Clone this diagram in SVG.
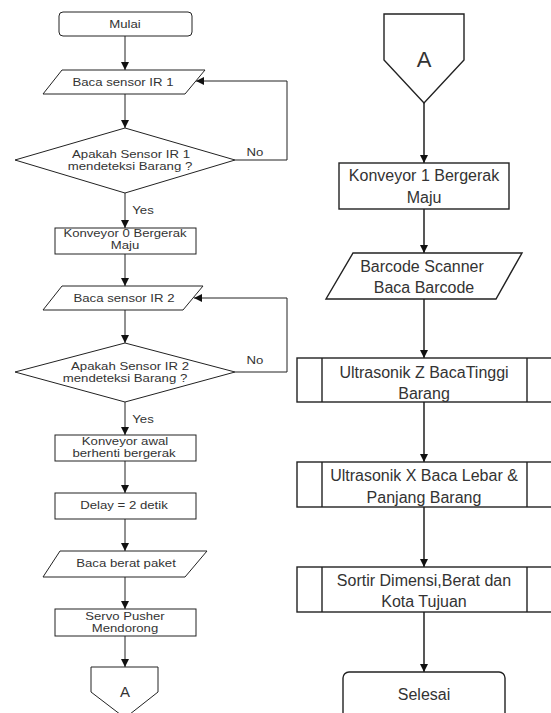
<svg xmlns="http://www.w3.org/2000/svg" width="551" height="713" viewBox="0 0 551 713">
<style>
.s{fill:#fff;stroke:#222;stroke-width:1}
.r{fill:#fff;stroke:#222;stroke-width:1.4}
.c{fill:none;stroke:#222;stroke-width:1;marker-end:url(#ah)}
.cr{fill:none;stroke:#111;stroke-width:1.4;marker-end:url(#ah)}
text{font-family:"Liberation Sans",Arial,sans-serif;fill:#333;text-anchor:middle}
.t{font-size:11px}
.n{font-size:10.5px}
.b{font-size:16px}
</style>
<defs>
<marker id="ah" viewBox="0 0 10 10" refX="10" refY="5" markerWidth="8" markerHeight="8" markerUnits="userSpaceOnUse" orient="auto">
<path d="M0,0 L10,5 L0,10 Z" fill="#111"/>
</marker>
</defs>
<rect width="551" height="713" fill="#fff"/>
<g id="connectors">
<line class="c" x1="125" y1="36" x2="125" y2="70"/>
<line class="c" x1="125" y1="94" x2="125" y2="128"/>
<polyline class="c" points="235,160 287,160 287,81 196,81"/>
<line class="c" x1="125" y1="193" x2="125" y2="228"/>
<line class="c" x1="125" y1="254" x2="125" y2="286"/>
<line class="c" x1="125" y1="310" x2="125" y2="343"/>
<polyline class="c" points="235,372 287,372 287,298 194,298"/>
<line class="c" x1="125" y1="402" x2="125" y2="435"/>
<line class="c" x1="125" y1="461" x2="125" y2="493"/>
<line class="c" x1="125" y1="519" x2="125" y2="551"/>
<line class="c" x1="125" y1="577" x2="125" y2="609"/>
<line class="c" x1="125" y1="636" x2="125" y2="667"/>
<line class="cr" x1="424" y1="103" x2="424" y2="163"/>
<line class="cr" x1="424" y1="209" x2="424" y2="253"/>
<line class="cr" x1="424" y1="299" x2="424" y2="358"/>
<line class="cr" x1="424" y1="402" x2="424" y2="462"/>
<line class="cr" x1="424" y1="507" x2="424" y2="567"/>
<line class="cr" x1="424" y1="612" x2="424" y2="672"/>
<text class="t" transform="translate(255,156) scale(1.2,1)">No</text>
<text class="t" transform="translate(143,214) scale(1.2,1)">Yes</text>
<text class="t" transform="translate(255,364) scale(1.2,1)">No</text>
<text class="t" transform="translate(143,423) scale(1.2,1)">Yes</text>
</g>
<g id="mulai">
<rect class="s" x="59" y="12" width="133" height="24" rx="4"/>
<text class="t" transform="translate(125,28) scale(1.2,1)">Mulai</text>
</g>
<g id="baca-ir1">
<polygon class="s" points="62,70 205,70 185,94 43,94"/>
<text class="t" transform="translate(123,86) scale(1.2,1)">Baca sensor IR 1</text>
</g>
<g id="cek-ir1">
<polygon class="s" points="125,128 235,160 125,193 15,160"/>
<text class="t" transform="translate(131,158) scale(1.2,1)">Apakah Sensor IR 1</text>
<text class="t" transform="translate(130,170) scale(1.2,1)">mendeteksi Barang ?</text>
</g>
<g id="konveyor0">
<rect class="s" x="55" y="228" width="141" height="26"/>
<text class="n" transform="translate(125,237) scale(1.25,1)">Konveyor 0 Bergerak</text>
<text class="n" transform="translate(125,249) scale(1.25,1)">Maju</text>
</g>
<g id="baca-ir2">
<polygon class="s" points="62,286 203,286 183,310 43,310"/>
<text class="t" transform="translate(124,302) scale(1.2,1)">Baca sensor IR 2</text>
</g>
<g id="cek-ir2">
<polygon class="s" points="125,343 235,372 125,402 15,372"/>
<text class="t" transform="translate(130,370) scale(1.2,1)">Apakah Sensor IR 2</text>
<text class="t" transform="translate(125,382) scale(1.2,1)">mendeteksi Barang ?</text>
</g>
<g id="konveyor-awal">
<rect class="s" x="55" y="435" width="141" height="26"/>
<text class="t" transform="translate(125,445) scale(1.2,1)">Konveyor awal</text>
<text class="t" transform="translate(124,457) scale(1.2,1)">berhenti bergerak</text>
</g>
<g id="delay">
<rect class="s" x="55" y="493" width="141" height="26"/>
<text class="t" transform="translate(124,509) scale(1.2,1)">Delay = 2 detik</text>
</g>
<g id="baca-berat">
<polygon class="s" points="60,551 207,551 185,577 43,577"/>
<text class="t" transform="translate(126,567) scale(1.2,1)">Baca berat paket</text>
</g>
<g id="servo">
<rect class="s" x="55" y="609" width="141" height="27"/>
<text class="n" transform="translate(125,619.5) scale(1.25,1)">Servo Pusher</text>
<text class="n" transform="translate(125,631.5) scale(1.25,1)">Mendorong</text>
</g>
<g id="a-out">
<polygon class="s" points="91,667 158,667 158,692 125,718 91,692"/>
<text x="125" y="697" style="font-size:15px">A</text>
</g>
<g id="a-in">
<polygon class="r" points="384,14 464,14 464,60 424,103 384,60"/>
<text x="424" y="67" style="font-size:22px">A</text>
</g>
<g id="konveyor1">
<rect class="r" x="339" y="163" width="170" height="46"/>
<text class="b" x="424" y="181">Konveyor 1 Bergerak</text>
<text class="b" x="424" y="203">Maju</text>
</g>
<g id="barcode">
<polygon class="r" points="353,253 522,253 496,299 326,299"/>
<text class="b" x="422" y="272">Barcode Scanner</text>
<text class="b" x="424" y="293">Baca Barcode</text>
</g>
<g id="ultrasonik-z">
<rect class="r" x="297" y="358" width="260" height="44"/>
<line class="r" x1="322" y1="358" x2="322" y2="402"/>
<line class="r" x1="527" y1="358" x2="527" y2="402"/>
<text class="b" x="424" y="378">Ultrasonik Z BacaTinggi</text>
<text class="b" x="424" y="399">Barang</text>
</g>
<g id="ultrasonik-x">
<rect class="r" x="297" y="462" width="260" height="45"/>
<line class="r" x1="322" y1="462" x2="322" y2="507"/>
<line class="r" x1="527" y1="462" x2="527" y2="507"/>
<text class="b" x="424" y="481">Ultrasonik X Baca Lebar &amp;</text>
<text class="b" x="424" y="503">Panjang Barang</text>
</g>
<g id="sortir">
<rect class="r" x="297" y="567" width="260" height="45"/>
<line class="r" x1="322" y1="567" x2="322" y2="612"/>
<line class="r" x1="527" y1="567" x2="527" y2="612"/>
<text class="b" x="424" y="586">Sortir Dimensi,Berat dan</text>
<text class="b" x="424" y="607">Kota Tujuan</text>
</g>
<g id="selesai">
<rect class="r" x="343" y="672" width="162" height="60" rx="6"/>
<text class="b" x="424" y="700">Selesai</text>
</g>
</svg>
